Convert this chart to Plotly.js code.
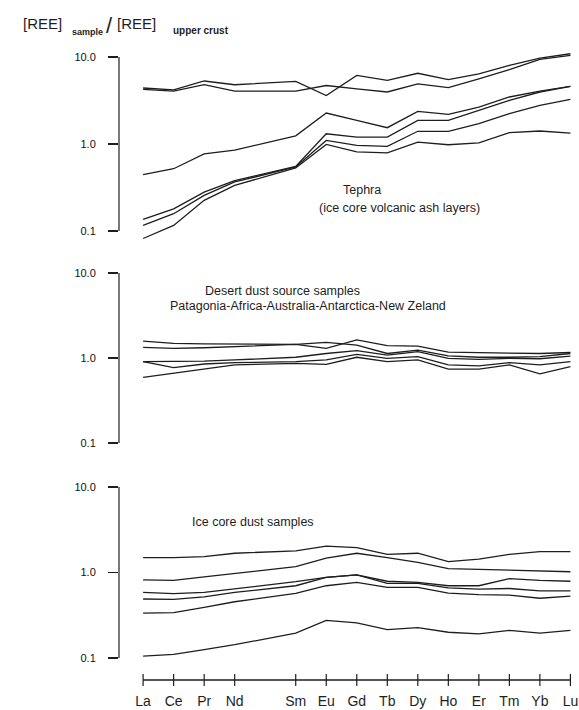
<!DOCTYPE html>
<html>
<head>
<meta charset="utf-8">
<script src="https://cdn.plot.ly/plotly-3.0.1.min.js"></script>
<style>html,body{margin:0;padding:0;background:#fff}#chart{width:579px;height:710px}</style>
</head>
<body>
<div id="chart"></div>
<script>
// REE elements (Pm is an empty slot on the axis)
const elements = ['La','Ce','Pr','Nd','Sm','Eu','Gd','Tb','Dy','Ho','Er','Tm','Yb','Lu'];
const axisCategories = ['La','Ce','Pr','Nd','Pm','Sm','Eu','Gd','Tb','Dy','Ho','Er','Tm','Yb','Lu'];
const yTickVals = [0.1, 1, 10];
const yTickText = ['0.1', '1.0', '10.0'];

// Tephra (ice core volcanic ash layers)
const tephra1 = [4.4, 4.2, 5.3, 4.8, 5.25, 3.6, 6.15, 5.4, 6.5, 5.5, 6.4, 8.0, 9.7, 10.9];
const tephra2 = [4.25, 4.06, 4.8, 4.06, 4.06, 4.7, 4.3, 3.96, 4.9, 4.45, 5.6, 7.15, 9.4, 10.45];
const tephra3 = [0.444, 0.52, 0.77, 0.85, 1.24, 2.27, 1.87, 1.54, 2.37, 2.19, 2.66, 3.47, 4.06, 4.6];
const tephra4 = [0.136, 0.18, 0.28, 0.38, 0.553, 1.31, 1.2, 1.2, 1.87, 1.87, 2.44, 3.18, 3.96, 4.6];
const tephra5 = [0.116, 0.158, 0.257, 0.366, 0.544, 1.10, 0.966, 0.94, 1.40, 1.40, 1.71, 2.23, 2.78, 3.26];
const tephra6 = [0.082, 0.116, 0.225, 0.335, 0.53, 0.99, 0.81, 0.79, 1.05, 0.98, 1.03, 1.35, 1.41, 1.33];

// Desert dust source samples
const desert1 = [1.58, 1.49, 1.47, 1.46, 1.45, 1.53, 1.42, 1.13, 1.24, 1.06, 1.02, 1.02, 1.04, 1.13];
const desert2 = [1.33, 1.30, 1.32, 1.36, 1.45, 1.30, 1.63, 1.40, 1.38, 1.17, 1.15, 1.15, 1.13, 1.16];
const desert3 = [0.905, 0.905, 0.92, 0.95, 1.02, 1.13, 1.22, 1.08, 1.19, 0.99, 0.965, 0.99, 0.98, 1.05];
const desert4 = [0.905, 0.77, 0.85, 0.88, 0.905, 0.95, 1.10, 0.99, 1.04, 0.83, 0.81, 0.88, 0.83, 0.905];
const desert5 = [0.59, 0.66, 0.735, 0.83, 0.865, 0.84, 1.02, 0.905, 0.95, 0.74, 0.74, 0.83, 0.65, 0.79];

// Ice core dust samples
const ice1 = [1.49, 1.49, 1.53, 1.68, 1.79, 2.04, 1.95, 1.63, 1.68, 1.34, 1.43, 1.63, 1.75, 1.75];
const ice2 = [0.82, 0.81, 0.89, 0.98, 1.17, 1.47, 1.68, 1.49, 1.31, 1.11, 1.09, 1.07, 1.05, 1.02];
const ice3 = [0.585, 0.565, 0.585, 0.64, 0.78, 0.875, 0.94, 0.79, 0.765, 0.70, 0.70, 0.85, 0.81, 0.79];
const ice4 = [0.49, 0.485, 0.52, 0.585, 0.70, 0.875, 0.94, 0.745, 0.745, 0.66, 0.64, 0.65, 0.61, 0.61];
const ice5 = [0.334, 0.34, 0.39, 0.455, 0.57, 0.70, 0.765, 0.67, 0.67, 0.575, 0.55, 0.545, 0.50, 0.53];
const ice6 = [0.105, 0.11, 0.125, 0.143, 0.195, 0.275, 0.258, 0.215, 0.226, 0.20, 0.192, 0.21, 0.195, 0.21];

const INK = '#1e1e1e';
const FONT = 'Arial, "Liberation Sans", Helvetica, sans-serif';

function lineTrace(vals, yaxis) {
  return {x: elements, y: vals, xaxis: 'x', yaxis: yaxis, mode: 'lines',
    line: {color: INK, width: 1.3}, hoverinfo: 'skip', showlegend: false};
}

const traces = [];
[tephra1, tephra2, tephra3, tephra4, tephra5, tephra6].forEach(v => traces.push(lineTrace(v, 'y')));
[desert1, desert2, desert3, desert4, desert5].forEach(v => traces.push(lineTrace(v, 'y2')));
[ice1, ice2, ice3, ice4, ice5, ice6].forEach(v => traces.push(lineTrace(v, 'y3')));
// x-axis baseline with crossing ticks
traces.push({x: elements, y: elements.map(() => 0), xaxis: 'x', yaxis: 'y4', mode: 'lines+markers',
  line: {color: INK, width: 1.6}, marker: {symbol: 'line-ns', size: 11, color: INK, line: {width: 1.2, color: INK}},
  hoverinfo: 'skip', showlegend: false});

const W = 579, H = 710, ML = 119, MR = 4;
const px = v => (v - ML) / (W - ML - MR);
const py = v => 1 - v / H;
const LO = -1.12, HI = 1.08;

// panel: pixel rows of the 10.0 tick and 0.1 tick
function logAxis(top, bottom) {
  const dec = (bottom - top) / 2;
  const t = top - (HI - 1) * dec, b = bottom + (-1 - LO) * dec;
  return {type: 'log', range: [LO, HI], domain: [py(b), py(t)], anchor: 'x',
    showline: false, ticks: 'outside', ticklen: 10, tickwidth: 1.2, tickcolor: INK,
    tickmode: 'array', tickvals: yTickVals, ticktext: yTickText, showgrid: false, zeroline: false,
    tickfont: {size: 11, color: '#111', family: FONT}, ticklabelstandoff: 10};
}
function axisLine(top, bottom) {
  return {type: 'line', xref: 'paper', yref: 'paper', x0: 0, x1: 0, y0: py(bottom), y1: py(top),
    line: {color: INK, width: 1.2}};
}

function note(text, x, y, size) {
  return {text: text, xref: 'paper', yref: 'paper', x: px(x - 2), y: py(y), xanchor: 'left', yanchor: 'middle',
    showarrow: false, font: {size: size, color: INK, family: FONT}};
}

const layout = {
  width: W, height: H, margin: {l: ML, r: MR, t: 0, b: 0},
  paper_bgcolor: '#fff', plot_bgcolor: 'rgba(0,0,0,0)',
  font: {family: FONT, color: INK},
  showlegend: false,
  xaxis: {type: 'category', categoryorder: 'array', categoryarray: axisCategories, range: [-0.79, 14.15],
    anchor: 'y4', domain: [0, 1], showline: false, zeroline: false, showgrid: false, ticks: '',
    tickmode: 'array', tickvals: elements, ticktext: elements, tickfont: {size: 14, color: INK, family: FONT},
    ticklabelstandoff: 5},
  yaxis: logAxis(57, 231),
  yaxis2: logAxis(273, 443),
  yaxis3: logAxis(487, 658),
  yaxis4: {domain: [py(686), py(674)], range: [-1, 1], visible: false, anchor: 'x', fixedrange: true},
  shapes: [axisLine(57, 231), axisLine(273, 443), axisLine(487, 658)],
  annotations: [
    note('[REE]', 23, 24, 15),
    note('<b>sample</b>', 72, 32, 9),
    note('/', 106, 26, 22),
    note('[REE]', 117, 24, 15),
    note('<b>upper crust</b>', 173, 31, 10),
    note('Tephra', 343, 190, 12.5),
    note('(ice core volcanic ash layers)', 319, 208, 12.5),
    note('Desert dust source samples', 205, 291, 12.5),
    note('Patagonia-Africa-Australia-Antarctica-New Zeland', 170, 306, 12.5),
    note('Ice core dust samples', 192, 522, 12.5)
  ]
};

Plotly.newPlot('chart', traces, layout, {displayModeBar: false, staticPlot: true});
</script>
</body>
</html>
